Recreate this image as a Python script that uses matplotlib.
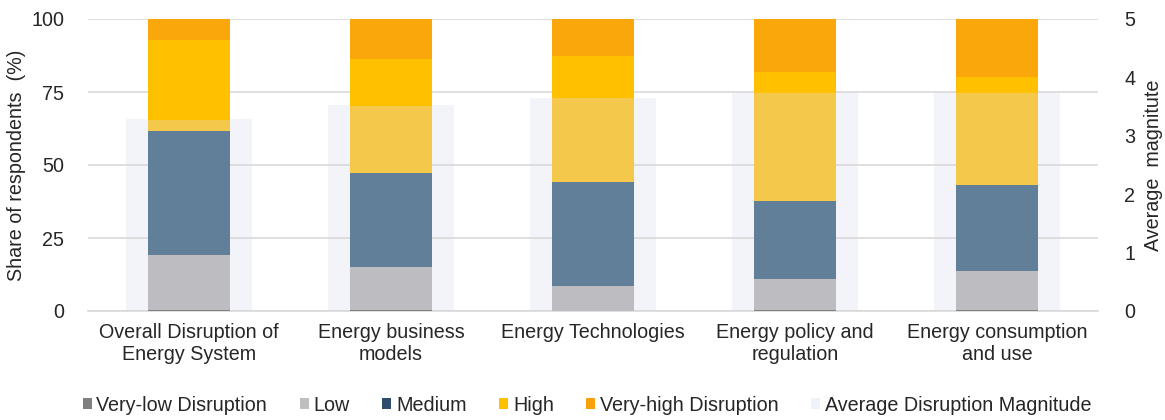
import matplotlib
matplotlib.use("Agg")
import matplotlib.pyplot as plt
from matplotlib.patches import Patch
import numpy as np

plt.rcParams['font.family'] = ['Liberation Sans', 'DejaVu Sans']

categories = ["Overall Disruption of\nEnergy System", "Energy business\nmodels",
              "Energy Technologies", "Energy policy and\nregulation",
              "Energy consumption\nand use"]
very_low = [0.5, 0.5, 0.0, 0.5, 0.5]
low = [18.7, 14.7, 8.6, 10.3, 13.3]
medium = [42.5, 32.2, 35.7, 26.8, 29.2]
medium_high = [3.7, 22.8, 28.5, 36.9, 31.5]
high = [27.4, 16.0, 14.5, 7.5, 5.5]
very_high = [7.2, 13.8, 12.7, 18.0, 20.0]
avg_magnitude = [3.28, 3.53, 3.64, 3.74, 3.73]

series = [very_low, low, medium, medium_high, high, very_high]
colors = ["#808080", "#BDBCC1", "#627F9A", "#F3C84B", "#FFC000", "#F9A70B"]
legend_labels = ["Very-low Disruption", "Low", "Medium", "High", "Very-high Disruption",
                 "Average Disruption Magnitude"]
legend_colors = ["#7F7F7F", "#BFBFBF", "#2E4D6E", "#FFC000", "#F9A00B", "#F0F2F9"]
bg_color = "#F2F4FA"
txt = "#262626"
fs = 14.2

fig = plt.figure(figsize=(11.65, 4.2), dpi=100)
ax = fig.add_axes([88/1165, 1 - 311/420, 1010/1165, 292/420])
ax2 = ax.twinx()

x = np.arange(len(categories))
ax2.bar(x, avg_magnitude, width=0.62, color=bg_color, zorder=1)
ax2.set_ylim(0, 5)
ax2.set_yticks([0, 1, 2, 3, 4, 5])

bottom = np.zeros(len(categories))
for vals, c in zip(series, colors):
    ax.bar(x, vals, width=0.405, bottom=bottom, color=c, zorder=3)
    bottom += np.array(vals)

ax.set_zorder(ax2.get_zorder() + 1)
ax.patch.set_visible(False)

ax.set_ylim(0, 100)
ax.set_xlim(-0.5, 4.5)
ax.set_yticks([0, 25, 50, 75, 100])
ax.yaxis.grid(True, color="#D9D9D9", linewidth=1.2, zorder=0)
ax.set_axisbelow(True)
ax.set_xticks(x)
ax.set_xticklabels(categories, fontsize=fs, color=txt, linespacing=1.15)
for a in (ax, ax2):
    for s in a.spines.values():
        s.set_visible(False)
    a.tick_params(length=0, labelsize=fs, labelcolor=txt)
ax.spines['bottom'].set_visible(True)
ax.spines['bottom'].set_color("#D9D9D9")
ax.spines['bottom'].set_linewidth(1.2)
ax.tick_params(axis='y', pad=17)
ax.tick_params(axis='x', pad=9)
ax2.tick_params(axis='y', pad=19)

ax.set_ylabel("Share of respondents  (%)", fontsize=fs, color=txt, labelpad=4)
ax2.set_ylabel("Average  magnitute", fontsize=fs, color=txt, labelpad=6)

handles = [Patch(facecolor=c, edgecolor='none') for c in legend_colors]
fig.legend(handles, legend_labels, loc="center", bbox_to_anchor=(0.504, 0.035),
           ncol=6, frameon=False, fontsize=fs, handlelength=0.45, handleheight=0.45,
           handletextpad=0.25, columnspacing=1.65, labelcolor=txt)

fig.savefig("out.png", dpi=100)
